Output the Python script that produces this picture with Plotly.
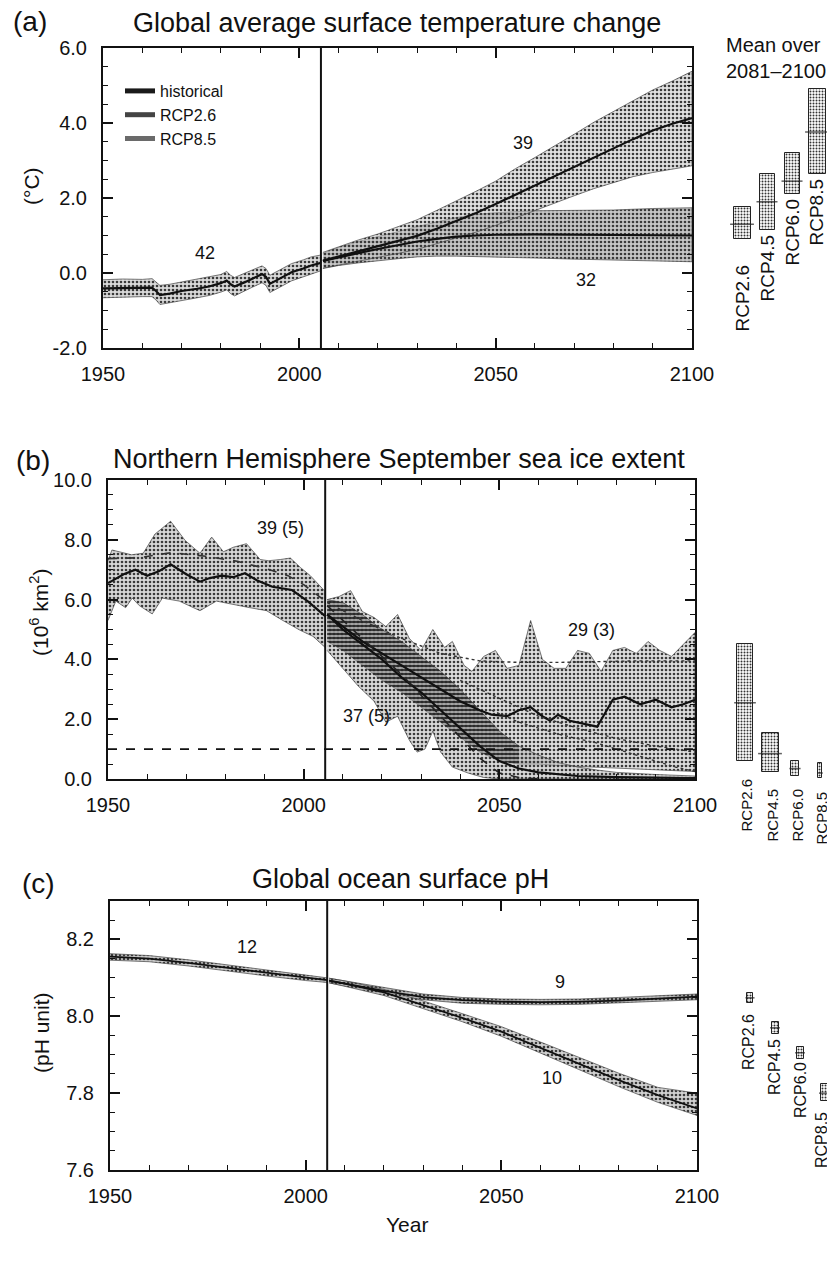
import plotly.graph_objects as go

FONT = "Liberation Sans, Arial, sans-serif"

# ---------------- Panel (a): global average surface temperature change ----------------
a_hist_years = [1950, 1955, 1960, 1962.5, 1963.5, 1964.5, 1967, 1970, 1974, 1977, 1980, 1981.5, 1982.5, 1983.5, 1986, 1988, 1990.5, 1991.5, 1992.5, 1995, 1998, 2001, 2003, 2005.5]
a_hist_mean = [-0.41, -0.40, -0.40, -0.39, -0.48, -0.59, -0.55, -0.48, -0.42, -0.36, -0.27, -0.20, -0.30, -0.36, -0.25, -0.15, -0.03, -0.10, -0.29, -0.15, 0.02, 0.12, 0.20, 0.27]
a_hist_upper = [-0.18, -0.16, -0.17, -0.15, -0.24, -0.33, -0.30, -0.24, -0.18, -0.12, -0.04, 0.04, -0.06, -0.12, -0.02, 0.08, 0.19, 0.12, -0.06, 0.08, 0.25, 0.35, 0.43, 0.48]
a_hist_lower = [-0.66, -0.64, -0.63, -0.63, -0.72, -0.84, -0.80, -0.73, -0.66, -0.60, -0.51, -0.45, -0.55, -0.61, -0.49, -0.38, -0.26, -0.33, -0.52, -0.38, -0.21, -0.11, -0.03, 0.06]

a_rcp26_years = [2006, 2010, 2015, 2020, 2025, 2030, 2035, 2040, 2045, 2050, 2060, 2070, 2080, 2090, 2100]
a_rcp26_mean = [0.32, 0.42, 0.53, 0.64, 0.74, 0.84, 0.91, 0.97, 1.00, 1.02, 1.03, 1.02, 1.01, 1.00, 1.00]
a_rcp26_upper = [0.52, 0.68, 0.84, 0.96, 1.10, 1.24, 1.37, 1.48, 1.56, 1.61, 1.66, 1.66, 1.68, 1.72, 1.74]
a_rcp26_lower = [0.12, 0.20, 0.27, 0.33, 0.38, 0.43, 0.45, 0.45, 0.44, 0.43, 0.40, 0.37, 0.34, 0.32, 0.30]

a_rcp85_years = [2006, 2010, 2015, 2020, 2025, 2030, 2035, 2040, 2045, 2050, 2055, 2060, 2065, 2070, 2075, 2080, 2085, 2090, 2095, 2100]
a_rcp85_mean = [0.33, 0.44, 0.58, 0.71, 0.84, 0.99, 1.18, 1.38, 1.60, 1.84, 2.09, 2.34, 2.59, 2.84, 3.08, 3.33, 3.57, 3.80, 3.98, 4.13]
a_rcp85_upper = [0.55, 0.70, 0.88, 1.04, 1.22, 1.42, 1.67, 1.92, 2.18, 2.45, 2.78, 3.08, 3.38, 3.70, 4.02, 4.30, 4.60, 4.88, 5.12, 5.38]
a_rcp85_lower = [0.13, 0.22, 0.32, 0.42, 0.52, 0.63, 0.78, 0.93, 1.09, 1.27, 1.46, 1.66, 1.86, 2.06, 2.25, 2.42, 2.57, 2.68, 2.78, 2.86]

a_ytick_vals = [-2.0, 0.0, 2.0, 4.0, 6.0]
a_ytick_text = ["-2.0", "0.0", "2.0", "4.0", "6.0"]

# ---------------- Panel (b): NH September sea ice extent ----------------
b_hist_years = [1950, 1954, 1957, 1960, 1963, 1966, 1970, 1973.5, 1976, 1979, 1982, 1985, 1988, 1992, 1997, 2001, 2005.5]
b_hist_mean = [6.55, 6.85, 7.00, 6.80, 6.95, 7.18, 6.85, 6.60, 6.72, 6.80, 6.75, 6.88, 6.65, 6.43, 6.32, 5.95, 5.45]
b_hist_dash_years = [1950, 1958, 1966, 1975, 1983, 1990, 1996, 2000, 2005.5]
b_hist_dash = [7.37, 7.40, 7.57, 7.45, 7.28, 7.05, 6.80, 6.50, 5.95]
b_hist_up_years = [1950, 1951, 1956, 1959, 1962, 1966, 1969.7, 1973.5, 1976.5, 1979.5, 1982, 1985.4, 1988.9, 1991, 1994, 1996.6, 1999.2, 2001.7, 2005.5]
b_hist_upper = [7.30, 7.66, 7.50, 7.55, 8.19, 8.62, 7.98, 7.55, 8.09, 7.60, 7.75, 7.87, 7.34, 7.30, 7.34, 7.39, 7.07, 6.80, 6.27]
b_hist_lo_years = [1950, 1952, 1954.5, 1956.2, 1958, 1961.3, 1963.9, 1968.2, 1973.5, 1977.7, 1982, 1986.2, 1990.5, 1994.7, 1999, 2002.4, 2005.5]
b_hist_lower = [5.30, 5.95, 5.73, 6.05, 5.80, 5.52, 6.05, 5.95, 5.63, 5.95, 5.84, 5.73, 5.63, 5.30, 4.98, 4.77, 4.40]

b_rcp26_up_years = [2006, 2009, 2012, 2015, 2018, 2021, 2024, 2027, 2030, 2033, 2036, 2038, 2041, 2043, 2046, 2049, 2052, 2055, 2058, 2061, 2064, 2067, 2070, 2073, 2076, 2079, 2082, 2085, 2088, 2091, 2094, 2097, 2100]
b_rcp26_upper = [6.0, 6.1, 6.3, 5.6, 5.4, 5.1, 5.5, 4.7, 4.3, 5.0, 4.4, 4.6, 3.8, 3.6, 4.1, 4.3, 3.7, 3.8, 5.3, 4.0, 3.7, 3.7, 4.3, 4.2, 3.6, 4.3, 4.4, 4.2, 4.6, 4.3, 4.1, 4.5, 4.9]
b_rcp26_lo_years = [2006, 2010, 2015, 2020, 2025, 2030, 2035, 2040, 2045, 2050, 2055, 2060, 2065, 2070, 2080, 2090, 2100]
b_rcp26_lower = [4.6, 4.3, 3.8, 3.3, 2.9, 2.4, 1.9, 1.4, 0.9, 0.6, 0.5, 0.5, 0.45, 0.4, 0.35, 0.3, 0.25]
b_rcp26_mean_years = [2006, 2010, 2015, 2020, 2025, 2030, 2035, 2040, 2045, 2048, 2052, 2055, 2058, 2061, 2063, 2065, 2068, 2072, 2075, 2077, 2079, 2082, 2086, 2090, 2094, 2097, 2100]
b_rcp26_mean = [5.5, 5.1, 4.6, 4.2, 3.8, 3.4, 3.0, 2.6, 2.3, 2.15, 2.1, 2.3, 2.4, 2.1, 1.95, 2.15, 1.95, 1.85, 1.75, 2.2, 2.65, 2.75, 2.5, 2.65, 2.4, 2.5, 2.65]
b_rcp26_dash_years = [2006, 2015, 2025, 2035, 2045, 2055, 2065, 2075, 2085, 2100]
b_rcp26_dash = [5.9, 5.3, 4.7, 4.2, 3.95, 3.9, 3.9, 3.92, 3.95, 3.95]
b_sub_dot1_years = [2040, 2050, 2060, 2070, 2080, 2090, 2100]
b_sub_dot1 = [3.3, 2.7, 2.1, 1.7, 1.35, 1.1, 0.9]
b_sub_dot2_years = [2048, 2055, 2065, 2075, 2085, 2095, 2100]
b_sub_dot2 = [2.3, 1.9, 1.5, 1.2, 0.8, 0.4, 0.25]

b_rcp85_up_years = [2006, 2010, 2015, 2020, 2025, 2030, 2035, 2040, 2045, 2050, 2055, 2060, 2065, 2070, 2075, 2080, 2090, 2100]
b_rcp85_upper = [6.0, 5.9, 5.5, 5.0, 4.6, 4.1, 3.6, 3.0, 2.3, 1.6, 1.1, 0.8, 0.55, 0.4, 0.3, 0.22, 0.15, 0.1]
b_rcp85_lo_years = [2006, 2010, 2014, 2018, 2021, 2024, 2027, 2029, 2031, 2033, 2035, 2038, 2042, 2046, 2050, 2100]
b_rcp85_lower = [4.3, 3.7, 3.1, 2.6, 1.9, 2.1, 1.3, 0.9, 1.0, 1.6, 0.9, 0.4, 0.2, 0.05, 0.0, 0.0]
b_rcp85_mean_years = [2006, 2010, 2015, 2020, 2025, 2030, 2035, 2040, 2045, 2050, 2055, 2060, 2065, 2070, 2080, 2090, 2100]
b_rcp85_mean = [5.5, 5.0, 4.5, 4.0, 3.4, 2.9, 2.3, 1.7, 1.1, 0.6, 0.35, 0.22, 0.15, 0.1, 0.06, 0.04, 0.03]
b_rcp85_dash_years = [2006, 2010, 2015, 2020, 2025, 2030, 2035, 2040, 2045, 2050, 2055, 2060]
b_rcp85_dash = [5.8, 5.3, 4.7, 4.1, 3.5, 2.8, 2.1, 1.4, 0.7, 0.2, 0.05, 0.0]

b_ytick_vals = [0.0, 2.0, 4.0, 6.0, 8.0, 10.0]
ice_free_threshold = 1.0

# ---------------- Panel (c): global ocean surface pH ----------------
c_hist_years = [1950, 1960, 1970, 1980, 1990, 2000, 2005.5]
c_hist_mean = [8.155, 8.150, 8.139, 8.126, 8.113, 8.100, 8.094]
c_hist_upper = [8.163, 8.158, 8.147, 8.134, 8.121, 8.107, 8.100]
c_hist_lower = [8.146, 8.142, 8.131, 8.118, 8.105, 8.093, 8.088]

c_rcp26_years = [2006, 2010, 2020, 2030, 2040, 2050, 2060, 2070, 2080, 2090, 2100]
c_rcp26_mean = [8.093, 8.085, 8.066, 8.050, 8.042, 8.038, 8.037, 8.038, 8.041, 8.046, 8.051]
c_rcp26_upper = [8.099, 8.092, 8.074, 8.058, 8.049, 8.045, 8.044, 8.045, 8.049, 8.054, 8.058]
c_rcp26_lower = [8.087, 8.079, 8.059, 8.043, 8.034, 8.031, 8.030, 8.031, 8.034, 8.039, 8.043]

c_rcp85_years = [2006, 2010, 2020, 2030, 2040, 2050, 2060, 2070, 2080, 2090, 2100]
c_rcp85_mean = [8.093, 8.085, 8.062, 8.030, 7.996, 7.960, 7.918, 7.876, 7.834, 7.795, 7.760]
c_rcp85_upper = [8.099, 8.092, 8.070, 8.040, 8.007, 7.973, 7.933, 7.893, 7.852, 7.815, 7.800]
c_rcp85_lower = [8.087, 8.078, 8.054, 8.021, 7.986, 7.948, 7.905, 7.860, 7.817, 7.776, 7.742]

c_ytick_vals = [7.6, 7.8, 8.0, 8.2]

# ---------------- Right-hand bars: mean over 2081-2100 ----------------
bar_cats = ["RCP2.6", "RCP4.5", "RCP6.0", "RCP8.5"]
a_bar_low = [0.90, 1.15, 2.10, 2.65]
a_bar_high = [1.75, 2.65, 3.20, 4.90]
a_bar_mean = [1.30, 1.90, 2.45, 3.76]

b_bar_low = [0.60, 0.25, 0.10, 0.02]
b_bar_high = [4.50, 1.55, 0.60, 0.55]
b_bar_mean = [2.55, 0.85, 0.35, 0.20]

c_bar_low = [8.035, 7.955, 7.890, 7.780]
c_bar_high = [8.060, 7.985, 7.920, 7.825]
c_bar_mean = [8.048, 7.970, 7.905, 7.800]

hist_end_year = 2005.5

# label placement (screen pixels: centre x, top y) - layout only
a_label_px = [(742, 263), (767, 233), (792, 197), (816, 177)]
b_label_px = [(746, 777), (772, 787), (797, 787), (821, 790)]
c_label_px = [(748, 1012), (774, 1037), (800, 1060), (821, 1110)]

# ======================================================================
fig = go.Figure()

DOTS = dict(shape=".", fgcolor="#3a3a3a", size=4, solidity=0.35)


def band(xs_up, ys_up, xs_lo, ys_lo, xa, ya, bg, fg_op=1.0, edge="#444"):
    fig.add_trace(go.Scatter(
        x=list(xs_up) + list(xs_lo)[::-1], y=list(ys_up) + list(ys_lo)[::-1],
        xaxis=xa, yaxis=ya, mode="lines", fill="toself",
        fillcolor=bg, fillpattern=dict(DOTS, bgcolor=bg, fgopacity=fg_op),
        line=dict(color=edge, width=0.7), showlegend=False, hoverinfo="skip"))


def line(xs, ys, xa, ya, width=2.2, dash="solid", color="#111"):
    fig.add_trace(go.Scatter(x=xs, y=ys, xaxis=xa, yaxis=ya, mode="lines",
                             line=dict(color=color, width=width, dash=dash),
                             showlegend=False, hoverinfo="skip"))


# ---- panel a ----
band(a_hist_years, a_hist_upper, a_hist_years, a_hist_lower, "x", "y", "rgba(205,205,205,0.75)")
band(a_rcp26_years, a_rcp26_upper, a_rcp26_years, a_rcp26_lower, "x", "y", "rgba(150,150,150,0.55)")
band(a_rcp85_years, a_rcp85_upper, a_rcp85_years, a_rcp85_lower, "x", "y", "rgba(200,200,200,0.55)")
line(a_hist_years, a_hist_mean, "x", "y")
line(a_rcp26_years, a_rcp26_mean, "x", "y")
line(a_rcp85_years, a_rcp85_mean, "x", "y")

# legend entries (panel a)
for name, col in [("historical", "#1a1a1a"), ("RCP2.6", "#444444"), ("RCP8.5", "#6a6a6a")]:
    fig.add_trace(go.Scatter(x=[None], y=[None], xaxis="x", yaxis="y", mode="lines",
                             name=name, line=dict(color=col, width=5), showlegend=True))

# ---- panel b ----
band(b_hist_up_years, b_hist_upper, b_hist_lo_years, b_hist_lower, "x2", "y2", "rgba(205,205,205,0.8)")
band(b_rcp26_up_years, b_rcp26_upper, b_rcp26_lo_years, b_rcp26_lower, "x2", "y2", "rgba(200,200,200,0.6)")
band(b_rcp85_up_years, b_rcp85_upper, b_rcp85_lo_years, b_rcp85_lower, "x2", "y2", "rgba(185,185,185,0.55)")
fig.add_trace(go.Scatter(
    x=list(b_rcp85_up_years[:11]) + list(b_rcp26_lo_years[:11])[::-1],
    y=list(b_rcp85_upper[:11]) + list(b_rcp26_lower[:11])[::-1],
    xaxis="x2", yaxis="y2", mode="none", fill="toself", fillcolor="rgba(90,90,90,0.35)",
    fillpattern=dict(shape="-", fgcolor="#222", bgcolor="rgba(90,90,90,0.35)", size=4, solidity=0.4),
    showlegend=False, hoverinfo="skip"))
line(b_hist_years, b_hist_mean, "x2", "y2")
line(b_hist_dash_years, b_hist_dash, "x2", "y2", width=1.6, dash="dash", color="#333")
line(b_rcp26_mean_years, b_rcp26_mean, "x2", "y2")
line(b_rcp26_dash_years, b_rcp26_dash, "x2", "y2", width=1.4, dash="dot", color="#333")
line(b_sub_dot1_years, b_sub_dot1, "x2", "y2", width=1.3, dash="dot", color="#333")
line(b_sub_dot2_years, b_sub_dot2, "x2", "y2", width=1.3, dash="dot", color="#333")
line(b_rcp85_mean_years, b_rcp85_mean, "x2", "y2")
line(b_rcp85_dash_years, b_rcp85_dash, "x2", "y2", width=1.6, dash="dash", color="#222")

# ---- panel c ----
band(c_hist_years, c_hist_upper, c_hist_years, c_hist_lower, "x3", "y3", "rgba(190,190,190,0.8)")
band(c_rcp26_years, c_rcp26_upper, c_rcp26_years, c_rcp26_lower, "x3", "y3", "rgba(160,160,160,0.7)")
band(c_rcp85_years, c_rcp85_upper, c_rcp85_years, c_rcp85_lower, "x3", "y3", "rgba(190,190,190,0.7)")
line(c_hist_years, c_hist_mean, "x3", "y3", width=1.8)
line(c_rcp26_years, c_rcp26_mean, "x3", "y3", width=1.8)
line(c_rcp85_years, c_rcp85_mean, "x3", "y3", width=1.8)

# ---- bars ----
bar_pos = [0, 1, 2, 3]


def bars(low, high, mean, xa, ya, widths, fill):
    fig.add_trace(go.Bar(x=bar_pos, y=[h - l for h, l in zip(high, low)], base=low,
                         width=widths, xaxis=xa, yaxis=ya,
                         marker=dict(color=fill, line=dict(color="#222", width=1),
                                     pattern=dict(shape=".", fgcolor="#333", size=3, solidity=0.35)),
                         showlegend=False, hoverinfo="skip"))
    fig.add_trace(go.Scatter(x=bar_pos, y=mean, xaxis=xa, yaxis=ya, mode="markers",
                             marker=dict(symbol="line-ew", size=[w * 25 for w in widths],
                                         line=dict(color="#222", width=1.5)),
                             showlegend=False, hoverinfo="skip"))


bars(a_bar_low, a_bar_high, a_bar_mean, "x4", "y4", [0.68, 0.6, 0.6, 0.68], "rgba(200,200,200,0.9)")
bars(b_bar_low, b_bar_high, b_bar_mean, "x5", "y5", [0.62, 0.68, 0.32, 0.16], "rgba(200,200,200,0.9)")
bars(c_bar_low, c_bar_high, c_bar_mean, "x6", "y6", [0.26, 0.28, 0.28, 0.34], "rgba(200,200,200,0.9)")

# ---- axes ----
# the page body has an 8 px margin, so the figure starts at (8, 8) on screen
OFF = 8
W, H = 835 - OFF, 1282 - OFF


def xp(sx):
    return (sx - OFF) / W


def yp(sy):
    return 1 - (sy - OFF) / H


def xd(a, b):
    return [xp(a), min(1.0, xp(b))]


def yd(top, bot):
    return [yp(bot), yp(top)]


def xaxis_main(dom, anchor):
    return dict(domain=dom, anchor=anchor, range=[1950, 2100], tickvals=[1950, 2000, 2050, 2100],
                ticks="inside", ticklen=10, tickwidth=2, tickcolor="#111",
                minor=dict(dtick=10, tick0=1950, ticks="inside", ticklen=5, tickwidth=1.2, tickcolor="#111"),
                showline=True, linewidth=2, linecolor="#111", mirror="ticks",
                showgrid=False, zeroline=False, ticklabelstandoff=7, automargin=False,
                tickfont=dict(size=20, color="#111", family=FONT))


def yaxis_main(dom, anchor, rng, vals, text, minor):
    return dict(domain=dom, anchor=anchor, range=rng, tickvals=vals, ticktext=text,
                ticks="inside", ticklen=10, tickwidth=2, tickcolor="#111",
                minor=dict(dtick=minor, tick0=vals[0], ticks="inside", ticklen=5, tickwidth=1.2, tickcolor="#111"),
                showline=True, linewidth=2, linecolor="#111", mirror="ticks",
                showgrid=False, zeroline=False, ticklabelstandoff=10, automargin=False,
                tickfont=dict(size=20, color="#111", family=FONT))


def hidden(dom, anchor, rng):
    return dict(domain=dom, anchor=anchor, range=rng, visible=False, showgrid=False,
                zeroline=False, automargin=False)


layout = dict(
    template="none",
    width=W, height=H, margin=dict(l=0, r=0, t=0, b=0, autoexpand=False),
    paper_bgcolor="white", plot_bgcolor="rgba(0,0,0,0)",
    font=dict(family=FONT, color="#111"),
    barmode="overlay",
    xaxis=xaxis_main(xd(103, 692), "y"),
    yaxis=yaxis_main(yd(48, 348), "x", [-2, 6], a_ytick_vals, a_ytick_text, 0.5),
    xaxis2=xaxis_main(xd(108, 695), "y2"),
    yaxis2=yaxis_main(yd(480, 779), "x2", [0, 10], b_ytick_vals, [f"{v:.1f}" for v in b_ytick_vals], 0.5),
    xaxis3=xaxis_main(xd(110, 697), "y3"),
    yaxis3=yaxis_main(yd(901, 1170), "x3", [7.6, 8.3], c_ytick_vals, [f"{v:.1f}" for v in c_ytick_vals], 0.05),
    xaxis4=hidden(xd(725, 835), "y4", [-0.68, 3.72]),
    yaxis4=hidden(yd(48, 348), "x4", [-2, 6]),
    xaxis5=hidden(xd(725, 835), "y5", [-0.8, 3.6]),
    yaxis5=hidden(yd(480, 779), "x5", [0, 10]),
    xaxis6=hidden(xd(725, 835), "y6", [-1.0, 3.4]),
    yaxis6=hidden(yd(901, 1170), "x6", [7.6, 8.3]),
    showlegend=True,
    legend=dict(x=xp(120), y=yp(74), xanchor="left", yanchor="top", bgcolor="rgba(0,0,0,0)",
                font=dict(size=16, family=FONT, color="#111"), itemwidth=30, tracegroupgap=0),
    bargap=0,
)
fig.update_layout(**layout)

shapes = []
for xa, ya in [("x", "y"), ("x2", "y2"), ("x3", "y3")]:
    shapes.append(dict(type="line", xref=xa, yref=ya + " domain", x0=hist_end_year, x1=hist_end_year,
                       y0=0, y1=1, line=dict(color="#111", width=2)))
shapes.append(dict(type="line", xref="x2 domain", yref="y2", x0=0, x1=1,
                   y0=ice_free_threshold, y1=ice_free_threshold,
                   line=dict(color="#111", width=1.6, dash="dash")))
fig.update_layout(shapes=shapes)

ann = []


def txt(x, y, s, size, xref="paper", yref="paper", **kw):
    d = dict(x=x, y=y, xref=xref, yref=yref, text=s, showarrow=False,
             xanchor="center", yanchor="middle",
             font=dict(size=size, family=FONT, color="#111"))
    d.update(kw)
    ann.append(d)


# titles, panel letters, axis titles (screen pixel positions)
txt(xp(397), yp(23), "Global average surface temperature change", 27)
txt(xp(399), yp(459), "Northern Hemisphere September sea ice extent", 27)
txt(xp(400), yp(879), "Global ocean surface pH", 27)
txt(xp(30), yp(22), "(a)", 28)
txt(xp(33), yp(461), "(b)", 28)
txt(xp(38), yp(883), "(c)", 28)
txt(xp(31), yp(186), "(°C)", 21, textangle=-90)
txt(xp(39), yp(612), "(10<sup>6</sup> km<sup>2</sup>)", 21, textangle=-90)
txt(xp(41), yp(1033), "(pH unit)", 21, textangle=-90)
txt(xp(407), yp(1224), "Year", 21)
txt(xp(724), yp(58), "Mean over<br>2081–2100", 20, xanchor="left", align="left")

# model counts
txt(1976, 0.53, "42", 18, "x", "y")
txt(2057, 3.47, "39", 18, "x", "y")
txt(2073, -0.19, "32", 18, "x", "y")
txt(1994, 8.4, "39 (5)", 18, "x2", "y2")
txt(2073.5, 5.0, "29 (3)", 18, "x2", "y2")
txt(2016, 2.1, "37 (5)", 18, "x2", "y2")
txt(1985, 8.18, "12", 18, "x3", "y3")
txt(2065, 8.09, "9", 18, "x3", "y3")
txt(2063, 7.84, "10", 18, "x3", "y3")

# bar labels (rotated, reading bottom to top, just under each bar)
for px_list, size in [(a_label_px, 19), (b_label_px, 15), (c_label_px, 16)]:
    for c, (sx, sy) in zip(bar_cats, px_list):
        txt(xp(sx), yp(sy), c, size, textangle=-90, yanchor="top")

fig.update_layout(annotations=ann)
fig.write_html("out.html")
